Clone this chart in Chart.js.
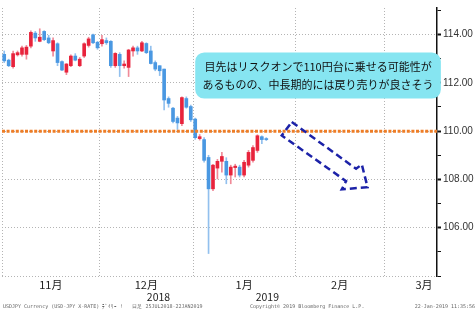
<!DOCTYPE html>
<html>
<head>
<meta charset="utf-8">
<script src="https://cdn.jsdelivr.net/npm/chart.js@4/dist/chart.umd.min.js"></script>
<style>
  html, body { margin: 0; padding: 0; background: #fff; }
  #wrap { width: 476px; height: 315px; }
</style>
</head>
<body>
<div id="wrap"><canvas id="usdjpy"></canvas></div>
<script>
// USDJPY daily candles, 1 Nov 2018 - 22 Jan 2019 (index = trading day)
const opens = [
  113.18, 112.94, 112.67, 113.16, 113.18, 113.18, 113.52, 114.06, 113.72, 114.13,
  113.86, 113.32, 113.62, 112.88, 112.44, 112.71, 113.11, 112.71, 113.11, 113.55,
  113.99, 113.68, 113.62, 113.75, 113.72, 112.71, 113.18, 112.71, 112.64, 113.32,
  113.45, 113.32, 113.63, 113.32, 112.84, 112.71, 112.57, 111.35, 110.95, 110.54,
  110.31, 111.35, 111.02, 110.50, 109.69, 109.65, 108.91, 107.61, 108.47, 108.75,
  108.75, 108.18, 108.49, 108.51, 108.18, 108.59, 108.79, 109.20, 109.77, 109.69
];
const highs = [
  113.32, 112.98, 113.32, 113.32, 113.52, 113.55, 114.15, 114.13, 114.24, 114.16,
  113.97, 113.86, 113.66, 112.91, 112.80, 113.16, 113.21, 113.05, 113.66, 113.89,
  114.02, 113.72, 113.97, 113.86, 113.75, 113.25, 113.25, 112.91, 113.39, 113.52,
  113.52, 113.72, 113.66, 113.52, 112.91, 112.71, 112.57, 111.42, 110.99, 110.61,
  111.42, 111.42, 111.08, 110.54, 109.86, 109.73, 109.00, 108.63, 108.83, 109.12,
  108.90, 108.59, 108.63, 108.59, 108.79, 109.20, 109.40, 109.85, 109.81, 109.73
];
const lows = [
  112.84, 112.67, 112.61, 113.11, 113.11, 112.98, 113.45, 113.72, 113.70, 113.75,
  113.62, 113.11, 112.71, 112.50, 112.34, 112.67, 112.91, 112.67, 113.05, 113.48,
  113.62, 113.39, 113.52, 113.59, 112.64, 112.64, 112.26, 112.61, 112.26, 113.11,
  113.18, 113.29, 113.21, 112.78, 112.50, 112.30, 110.88, 110.99, 110.34, 110.07,
  110.23, 110.95, 110.40, 109.66, 109.63, 108.71, 104.93, 107.53, 108.02, 108.30,
  107.82, 107.82, 108.10, 108.10, 108.10, 108.51, 108.71, 109.12, 109.48, 109.61
];
const closes = [
  112.91, 112.71, 113.21, 113.25, 113.45, 113.48, 114.09, 113.86, 113.89, 113.79,
  113.66, 113.75, 112.84, 112.53, 112.78, 113.11, 112.94, 112.98, 113.62, 113.82,
  113.66, 113.45, 113.79, 113.66, 112.71, 113.22, 112.71, 112.78, 113.36, 113.45,
  113.32, 113.66, 113.25, 112.80, 112.57, 112.50, 111.29, 111.15, 110.40, 110.34,
  111.39, 110.99, 110.47, 109.73, 109.77, 108.79, 107.61, 108.59, 108.75, 108.95,
  108.18, 108.51, 108.55, 108.18, 108.71, 109.12, 109.32, 109.81, 109.65, 109.65
];

const monthLabels = ['11月', '12月', '1月', '2月', '3月'];
const monthCenters = [10.5, 32, 54, 75.5, 94.5];
const monthEdges = [-0.5, 21.5, 42.5, 65.5, 85.5];
const yearLabels = ['2018', '2019'];
const yearCenters = [21, 70];

const resistance = 110;
// dashed arrow outline (trading day, price)
const arrowX = [64.73, 79.21, 80.5, 81.8, 75.99, 76.96, 62.48, 64.73];
const arrowY = [110.38, 108.44, 108.62, 107.68, 107.59, 107.93, 109.82, 110.38];

const noteLines = [
  '目先はリスクオンで110円台に乗せる可能性が',
  'あるものの、中長期的には戻り売りが良さそう'
];
const noteBox = { x0: 43, x1: 98.3, y0: 113.26, y1: 111.35 };

const footLeft = 'USDJPY Currency (USD-JPY X-RATE) ﾃﾞｲﾘｰ !   日足 25JUL2018-22JAN2019';
const footMid = 'Copyright© 2019 Bloomberg Finance L.P.';
const footRight = '22-Jan-2019 11:35:56';

const X_MIN = -0.5, X_MAX = 97.43;
const UP = '#e8233c', DOWN = '#4a98e2';
const UP_WICK = '#f08a98', DOWN_WICK = '#92c0ee';

const isUp = (i) => closes[i] >= opens[i];

const wickData = highs.map((h, i) => ({ x: i, y: [lows[i], h] }));
const bodyData = opens.map((o, i) => ({ x: i, y: [Math.min(o, closes[i]), Math.max(o, closes[i])] }));

const notePlugin = {
  id: 'note',
  afterDraw(chart) {
    const { ctx, scales: { x, y } } = chart;
    const left = x.getPixelForValue(noteBox.x0);
    const right = x.getPixelForValue(noteBox.x1);
    const top = y.getPixelForValue(noteBox.y0);
    const bottom = y.getPixelForValue(noteBox.y1);
    ctx.save();
    ctx.fillStyle = '#86e5f1';
    ctx.beginPath();
    ctx.roundRect(left, top, right - left, bottom - top, 9);
    ctx.fill();
    ctx.fillStyle = '#111';
    ctx.font = '11px "Noto Sans CJK JP"';
    ctx.textAlign = 'center';
    ctx.textBaseline = 'middle';
    const cx = (left + right) / 2;
    noteLines.forEach((t, i) => ctx.fillText(t, cx, top + 14 + i * 18));

    // footer line
    ctx.fillStyle = '#666';
    ctx.font = '5px "DejaVu Sans Mono"';
    ctx.textAlign = 'left';
    ctx.fillText(footLeft, 3, 307);
    ctx.fillText(footMid, 250, 307);
    ctx.textAlign = 'right';
    ctx.fillText(footRight, 475, 307);
    ctx.restore();
  }
};

new Chart(document.getElementById('usdjpy'), {
  type: 'bar',
  data: {
    datasets: [
      {
        type: 'line',
        data: arrowX.map((v, i) => ({ x: v, y: arrowY[i] })),
        borderColor: '#1c22a8',
        borderWidth: 2.5,
        borderDash: [7, 4],
        borderJoinStyle: 'miter',
        pointRadius: 0,
        fill: false,
        tension: 0,
        order: 0
      },
      {
        type: 'line',
        data: [{ x: X_MIN, y: resistance }, { x: X_MAX, y: resistance }],
        borderColor: '#ee7d26',
        borderWidth: 3,
        borderDash: [3, 1.6],
        pointRadius: 0,
        fill: false,
        order: 1
      },
      {
        data: bodyData,
        backgroundColor: (c) => isUp(c.dataIndex) ? UP : DOWN,
        barThickness: 3,
        minBarLength: 1,
        grouped: false,
        order: 2
      },
      {
        data: wickData,
        backgroundColor: (c) => isUp(c.dataIndex) ? UP_WICK : DOWN_WICK,
        barThickness: 1,
        grouped: false,
        order: 3
      }
    ]
  },
  options: {
    responsive: true,
    maintainAspectRatio: false,
    animation: false,
    layout: { padding: { left: 2, top: 3, right: 0, bottom: 12 } },
    plugins: { legend: { display: false }, tooltip: { enabled: false } },
    scales: {
      x: {
        type: 'linear',
        min: X_MIN,
        max: X_MAX,
        offset: false,
        afterBuildTicks: (axis) => {
          axis.ticks = monthEdges.concat(monthCenters).sort((a, b) => a - b).map((v) => ({ value: v }));
        },
        afterFit: (axis) => { axis.height = 15; },
        grid: {
          offset: false,
          drawTicks: false,
          color: (c) => monthEdges.includes(c.tick && c.tick.value) ? '#b4b4b4' : 'transparent'
        },
        border: { display: false, dash: [1, 2] },
        ticks: {
          autoSkip: false,
          maxRotation: 0,
          padding: 2,
          color: '#222',
          font: { family: '"Noto Sans CJK JP"', size: 11 },
          callback: (v) => {
            const k = monthCenters.indexOf(v);
            return k >= 0 ? monthLabels[k] : '';
          }
        }
      },
      xYear: {
        type: 'linear',
        position: 'bottom',
        min: X_MIN,
        max: X_MAX,
        afterBuildTicks: (axis) => {
          axis.ticks = yearCenters.map((v) => ({ value: v }));
        },
        afterFit: (axis) => { axis.height = 12; },
        grid: { display: false, drawTicks: false },
        border: { display: false },
        ticks: {
          autoSkip: false,
          maxRotation: 0,
          padding: 0,
          color: '#222',
          font: { family: '"Noto Sans CJK JP"', size: 10.5 },
          callback: (v) => {
            const k = yearCenters.indexOf(v);
            return k >= 0 ? yearLabels[k] : '';
          }
        }
      },
      y: {
        type: 'linear',
        position: 'right',
        min: 104,
        max: 115.1,
        afterFit: (axis) => { axis.width = 39; },
        grid: {
          tickLength: 4,
          color: (c) => (c.tick && c.tick.value % 2 === 0) ? '#b4b4b4' : 'transparent',
          tickColor: '#111',
          tickWidth: (c) => (c.tick && c.tick.value % 2 === 0 && c.tick.value > 104) ? 2 : 1
        },
        border: { display: true, color: '#111', width: 1.5, dash: [1, 2] },
        ticks: {
          stepSize: 1,
          includeBounds: false,
          autoSkip: false,
          padding: 2,
          color: '#333',
          font: { family: '"Liberation Sans"', size: 10 },
          callback: (v) => (v % 2 === 0 && v >= 106) ? v.toFixed(2) : ''
        }
      }
    }
  },
  plugins: [notePlugin]
});
</script>
</body>
</html>
